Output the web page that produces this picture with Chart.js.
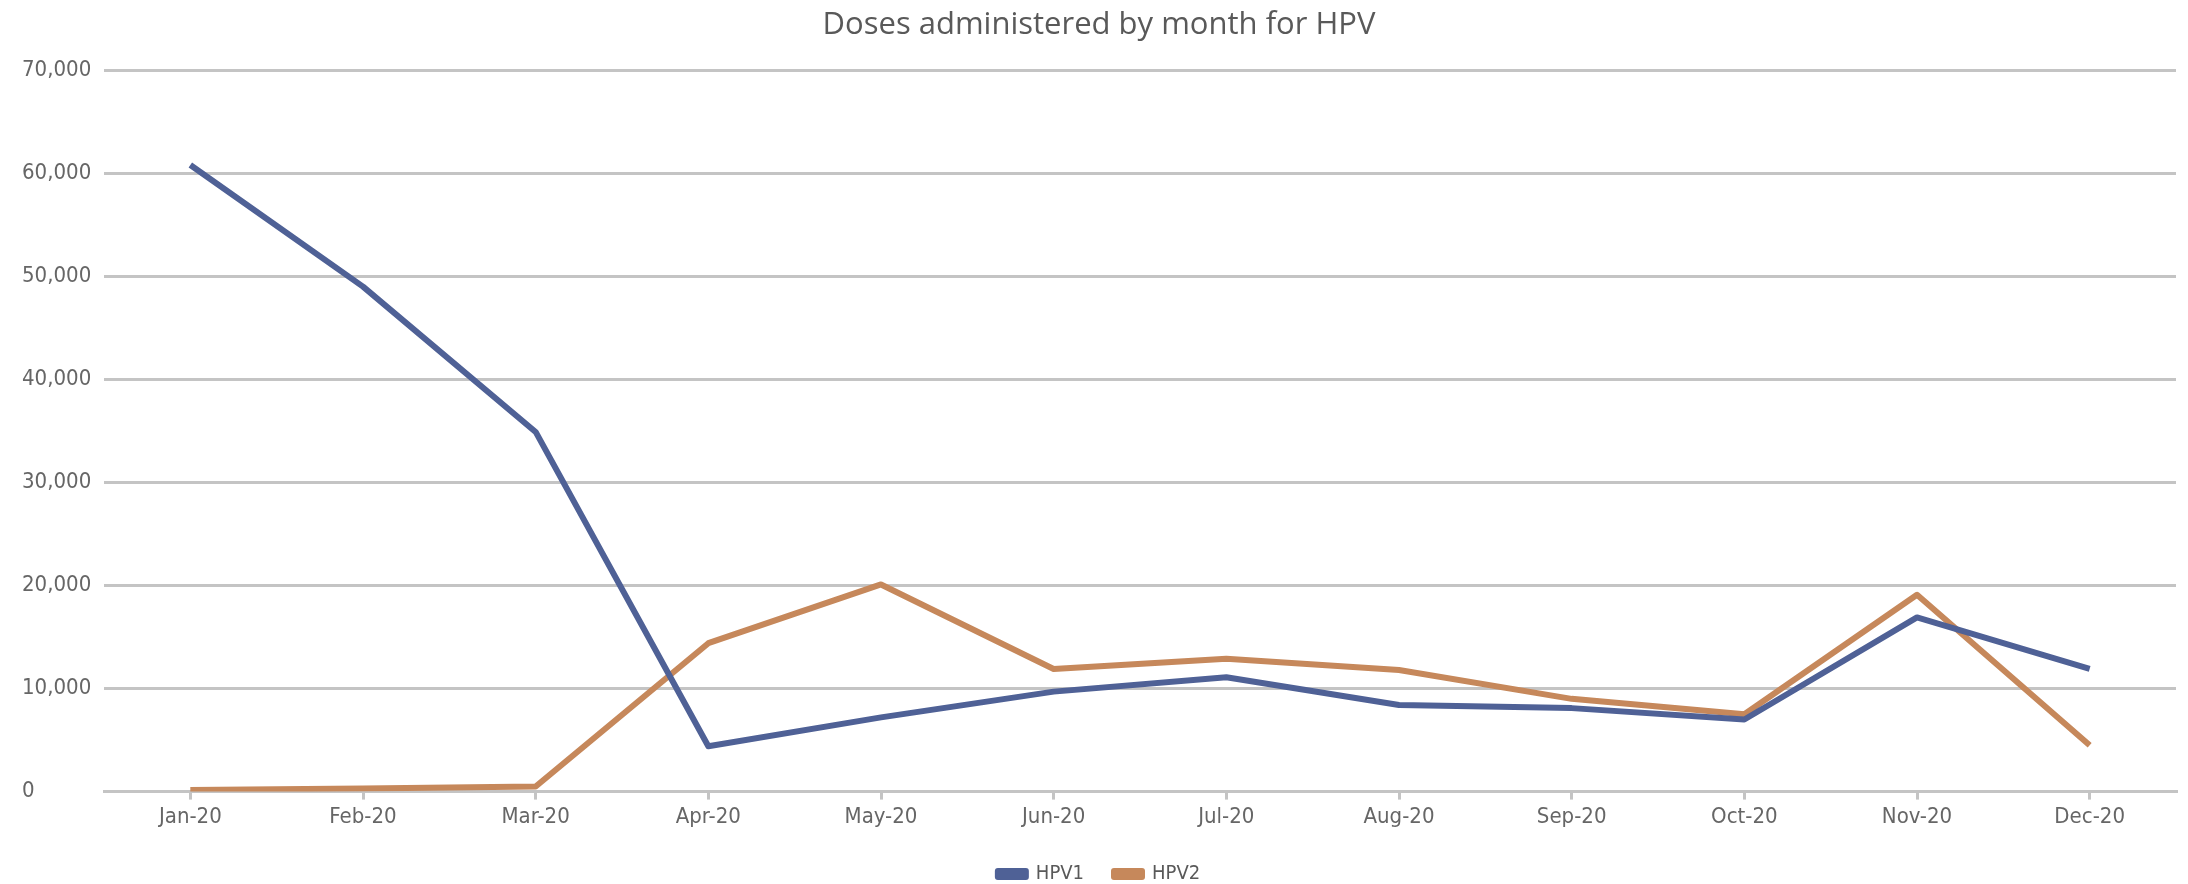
<!DOCTYPE html>
<html lang="en">
<head>
    <meta charset="UTF-8">
    <title>Doses administered by month for HPV</title>
    <script src="https://cdn.jsdelivr.net/npm/chart.js"></script>
    <style>
        body {
            margin: 0;
            background-color: #ffffff;
        }

        #wrap {
            width: 2188px;
            height: 884px;
        }
    </style>
</head>
<body>
    <div id="wrap">
        <canvas id="hpvChart"></canvas>
    </div>

    <script>
        const months = ['Jan-20', 'Feb-20', 'Mar-20', 'Apr-20', 'May-20', 'Jun-20',
                        'Jul-20', 'Aug-20', 'Sep-20', 'Oct-20', 'Nov-20', 'Dec-20'];
        const hpv1 = [60800, 49000, 34900, 4400, 7200, 9700, 11100, 8400, 8100, 7000, 16900, 11900];
        const hpv2 = [150, 300, 500, 14400, 20100, 11900, 12900, 11800, 9000, 7500, 19100, 4500];

        const textColor = '#595959';
        const tickColor = '#666666';
        const gridColor = '#c4c4c4';
        const narrow = "'Liberation Sans Narrow', 'DejaVu Sans Condensed', sans-serif";

        new Chart(document.getElementById('hpvChart'), {
            type: 'line',
            data: {
                labels: months,
                datasets: [
                    {
                        label: 'HPV1',
                        data: hpv1,
                        borderColor: '#4f6196',
                        backgroundColor: '#4f6196',
                        borderWidth: 6,
                        pointRadius: 0,
                        tension: 0,
                        borderJoinStyle: 'round'
                    },
                    {
                        label: 'HPV2',
                        data: hpv2,
                        borderColor: '#c6885b',
                        backgroundColor: '#c6885b',
                        borderWidth: 6,
                        pointRadius: 0,
                        tension: 0,
                        borderJoinStyle: 'round'
                    }
                ]
            },
            options: {
                responsive: true,
                maintainAspectRatio: false,
                animation: false,
                layout: {
                    padding: { left: 22, right: 12, top: 0, bottom: -10 }
                },
                plugins: {
                    title: {
                        display: true,
                        text: 'Doses administered by month for HPV',
                        color: textColor,
                        font: { family: "'Open Sans', sans-serif", size: 31, weight: 'normal' },
                        padding: { top: 7, bottom: 26 }
                    },
                    legend: {
                        position: 'bottom',
                        labels: {
                            color: textColor,
                            boxWidth: 28,
                            boxHeight: 6,
                            padding: 30,
                            font: { family: narrow, size: 20 }
                        }
                    },
                    tooltip: { enabled: false }
                },
                scales: {
                    x: {
                        offset: true,
                        grid: {
                            drawOnChartArea: false,
                            drawTicks: true,
                            tickLength: 8,
                            color: gridColor,
                            lineWidth: 3
                        },
                        border: { display: true, color: gridColor, width: 3 },
                        ticks: {
                            color: tickColor,
                            padding: 4,
                            maxRotation: 0,
                            font: { family: narrow, size: 22 }
                        }
                    },
                    y: {
                        min: 0,
                        max: 70000,
                        afterFit: (scale) => { scale.width = 82; },
                        grid: {
                            color: gridColor,
                            lineWidth: 3,
                            drawTicks: false
                        },
                        border: { display: false },
                        ticks: {
                            stepSize: 10000,
                            color: tickColor,
                            crossAlign: 'far',
                            font: { family: narrow, size: 22 }
                        }
                    }
                }
            }
        });
    </script>
</body>
</html>
